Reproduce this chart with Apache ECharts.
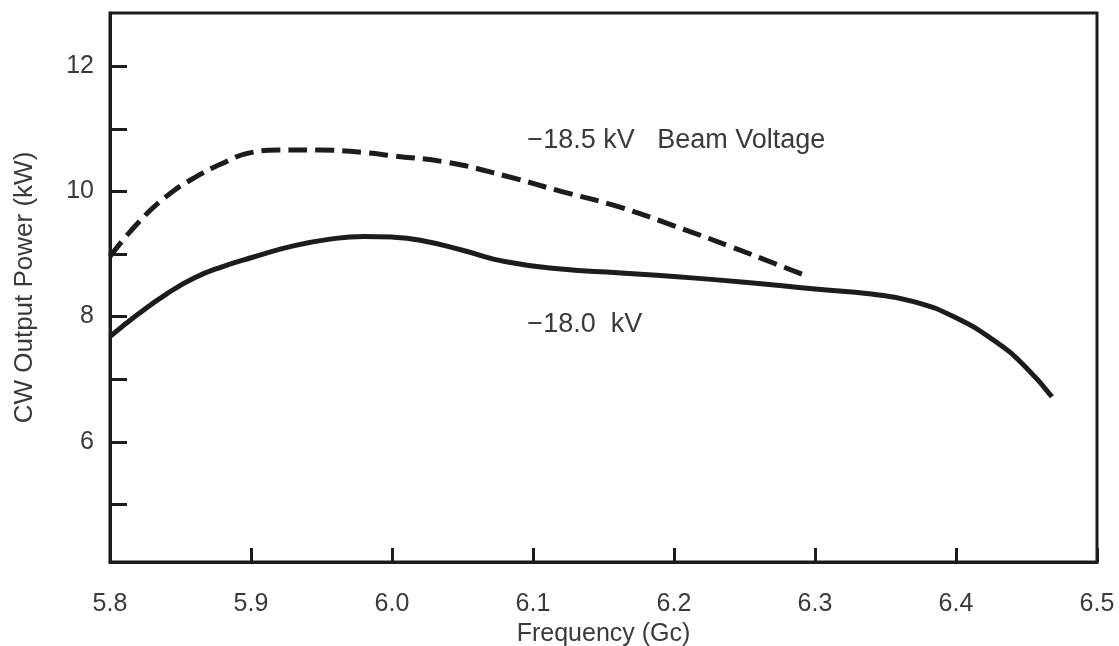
<!DOCTYPE html>
<html>
<head>
<meta charset="utf-8">
<script src="https://cdn.jsdelivr.net/npm/echarts@6/dist/echarts.min.js"></script>
<style>
  html, body { margin: 0; padding: 0; background: #fff; }
  #main { width: 1119px; height: 646px; }
</style>
</head>
<body>
<div id="main"></div>
<script>
// frequency (Gc) / output power (kW)
const freq185 = [5.80, 5.82, 5.84, 5.86, 5.88, 5.90, 5.92, 5.95, 5.98, 6.00, 6.04, 6.08, 6.12, 6.16, 6.20, 6.24, 6.27, 6.295]
const power185 = [8.96, 9.50, 9.92, 10.22, 10.45, 10.62, 10.66, 10.66, 10.62, 10.57, 10.46, 10.25, 10.00, 9.76, 9.45, 9.12, 8.86, 8.64]

const freq180 = [5.80, 5.82, 5.84, 5.86, 5.88, 5.90, 5.93, 5.96, 5.98, 6.00, 6.02, 6.05, 6.08, 6.12, 6.16, 6.20, 6.25, 6.30, 6.34, 6.37, 6.40, 6.43, 6.45, 6.468]
const power180 = [7.68, 8.04, 8.36, 8.62, 8.80, 8.94, 9.13, 9.25, 9.28, 9.27, 9.22, 9.06, 8.88, 8.76, 8.70, 8.64, 8.55, 8.44, 8.36, 8.24, 7.98, 7.57, 7.18, 6.72]

const yTicks = [5, 6, 7, 8, 9, 10, 11, 12]
const yLabels = [6, 8, 10, 12]

const zip = (xs, ys) => xs.map((x, i) => [x, ys[i]])

const ink = '#1c1c1c'
const textColor = '#3a3a3a'
const font = 'Liberation Sans, Arial, sans-serif'

var myChart = echarts.init(document.getElementById('main'))

var option = {
  backgroundColor: '#fff',
  animation: false,
  grid: {
    left: 110, top: 13, right: 22, bottom: 84,
    outerBoundsMode: 'none',
    show: true, borderColor: ink, borderWidth: 3
  },
  xAxis: {
    type: 'value',
    min: 5.8, max: 6.5, interval: 0.1,
    name: 'Frequency (Gc)',
    nameLocation: 'middle',
    nameGap: 56,
    nameTextStyle: { fontSize: 25, color: textColor, fontFamily: font },
    axisLine: { lineStyle: { color: ink, width: 3 } },
    axisTick: { inside: true, length: 14, lineStyle: { color: ink, width: 3 } },
    axisLabel: {
      margin: 30, fontSize: 25, color: textColor, fontFamily: font,
      formatter: v => v.toFixed(1)
    },
    splitLine: { show: false }
  },
  yAxis: {
    type: 'value',
    min: 4.08, max: 12.85,
    name: 'CW Output Power (kW)',
    nameLocation: 'middle',
    nameRotate: 90,
    nameGap: 72,
    nameTextStyle: { fontSize: 26, color: textColor, fontFamily: font },
    axisLine: { lineStyle: { color: ink, width: 3 } },
    axisTick: { inside: true, length: 17, customValues: yTicks, lineStyle: { color: ink, width: 3 } },
    axisLabel: {
      margin: 16, fontSize: 25, color: textColor, fontFamily: font,
      customValues: yLabels
    },
    splitLine: { show: false }
  },
  series: [
    {
      name: '-18.5 kV',
      type: 'line',
      data: zip(freq185, power185),
      smooth: true,
      showSymbol: false,
      lineStyle: { color: ink, width: 5, type: [19, 8], cap: 'butt' },
      markPoint: {
        symbolSize: 0,
        label: {
          show: true, position: 'right', distance: 0,
          formatter: '\u221218.5 kV   Beam Voltage',
          fontSize: 27, color: textColor, fontFamily: font
        },
        data: [{ coord: [6.096, 10.81] }]
      }
    },
    {
      name: '-18.0 kV',
      type: 'line',
      data: zip(freq180, power180),
      smooth: true,
      showSymbol: false,
      lineStyle: { color: ink, width: 5 },
      markPoint: {
        symbolSize: 0,
        label: {
          show: true, position: 'right', distance: 0,
          formatter: '\u221218.0  kV',
          fontSize: 27, color: textColor, fontFamily: font
        },
        data: [{ coord: [6.096, 7.87] }]
      }
    }
  ]
}

myChart.setOption(option)
</script>
</body>
</html>
